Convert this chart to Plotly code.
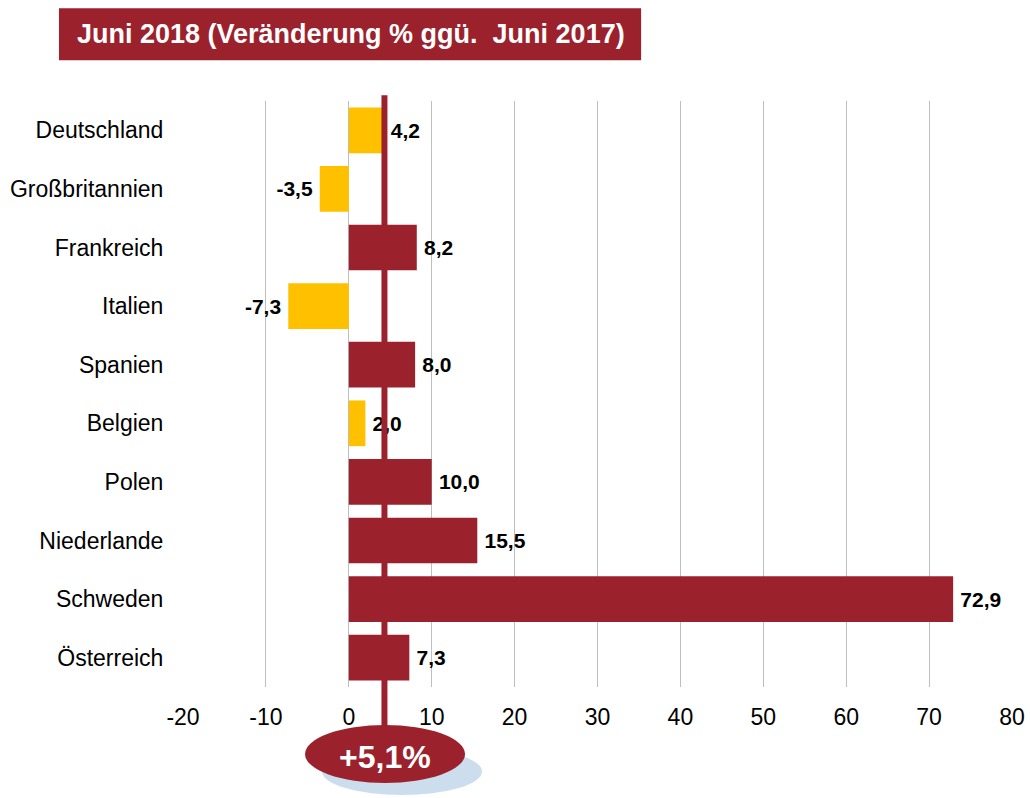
import plotly.graph_objects as go

# data
countries = ["Deutschland", "Großbritannien", "Frankreich", "Italien", "Spanien",
             "Belgien", "Polen", "Niederlande", "Schweden", "Österreich"]
changes = [4.2, -3.5, 8.2, -7.3, 8.0, 2.0, 10.0, 15.5, 72.9, 7.3]
total_change = 5.1
tick_values = [-20, -10, 0, 10, 20, 30, 40, 50, 60, 70, 80]
title_text = "Juni 2018 (Veränderung % ggü.  Juni 2017)"

RED = "#9B222D"
YELLOW = "#FFC000"
FONT = "Liberation Sans, Arial, sans-serif"

# bars below the overall average get yellow
bar_colors = [RED if v > total_change else YELLOW for v in changes]
labels = []
for v in changes:
    s = f"{v:.1f}".replace(".", ",")
    # small gap between bar end and label
    labels.append(f"{s}\u2009" if v < 0 else f"\u2009{s}")

fig = go.Figure(go.Bar(
    x=changes,
    y=countries,
    orientation="h",
    marker=dict(color=bar_colors, line=dict(width=0)),
    text=labels,
    textposition="outside",
    textfont=dict(family=FONT, size=21, color="black", weight="bold"),
    cliponaxis=False,
    width=0.78,
))

marker_x = 4.3  # where the average line is drawn

shapes = [
    # title box
    dict(type="rect", xref="paper", yref="paper", x0=-0.1496, x1=0.5526,
         y0=1.0695, y1=1.1582, fillcolor=RED, line=dict(width=0), layer="above"),
    # shadow ellipse
    dict(type="circle", xref="paper", yref="paper", x0=0.1677, x1=0.3607,
         y0=-0.1843, y1=-0.1041, fillcolor="#CCDDEE", line=dict(width=0), layer="above"),
    # average line
    dict(type="line", xref="x", yref="paper", x0=marker_x, x1=marker_x,
         y0=-0.08, y1=1.01, line=dict(color=RED, width=6), layer="above"),
    # red ellipse
    dict(type="circle", xref="paper", yref="paper", x0=0.1472, x1=0.3402,
         y0=-0.1638, y1=-0.0648, fillcolor=RED, line=dict(width=0), layer="above"),
]

annotations = [
    dict(text=f"<b>{title_text.replace('  ', '&nbsp; ')}</b>", xref="paper", yref="paper",
         x=0.2021, y=1.1138, xanchor="center", yanchor="middle", showarrow=False,
         font=dict(family=FONT, size=27, color="white")),
    dict(text=f"<b>+{total_change:.1f}%</b>".replace(".", ","), xref="paper", yref="paper",
         x=0.2437, y=-0.1195, xanchor="center", yanchor="middle", showarrow=False,
         font=dict(family=FONT, size=32, color="white")),
]

fig.update_layout(
    width=1030,
    height=798,
    paper_bgcolor="white",
    plot_bgcolor="white",
    margin=dict(l=183, r=18, t=101, b=111),
    showlegend=False,
    shapes=shapes,
    annotations=annotations,
    font=dict(family=FONT, color="black"),
    xaxis=dict(
        range=[-20, 80],
        tickvals=tick_values,
        ticktext=[str(t) for t in tick_values],
        showgrid=True,
        gridcolor="#BFBFBF",
        gridwidth=1,
        zeroline=False,
        showline=False,
        ticks="outside",
        ticklen=9,
        tickcolor="rgba(0,0,0,0)",
        tickfont=dict(size=23),
        automargin=False,
    ),
    yaxis=dict(
        autorange="reversed",
        showgrid=False,
        zeroline=False,
        showline=False,
        ticks="outside",
        ticklen=14,
        tickcolor="rgba(0,0,0,0)",
        tickfont=dict(size=23),
        automargin=False,
    ),
)

fig.write_html("out.html", config={"displayModeBar": False},
               post_script="document.body.style.margin='0';")
